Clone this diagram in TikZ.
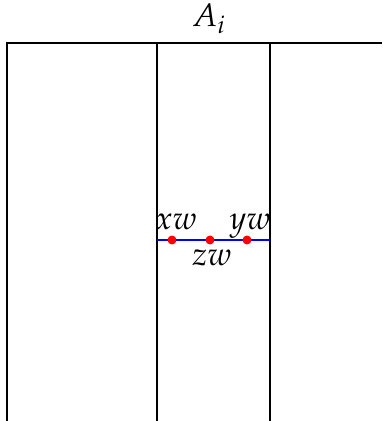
\documentclass[tikz,border=0pt]{standalone}
\usepackage{mathpazo}
\usetikzlibrary{positioning}
\tikzset{
  wall/.style={line width=0.8pt, black},
  seg/.style={line width=0.6pt, blue},
  pt/.style={circle, fill=red, inner sep=0pt, minimum size=3.6pt},
  lbl/.style={inner sep=1pt, font=\fontsize{13pt}{15pt}\selectfont}
}
\begin{document}
\begin{tikzpicture}[x=0.0141cm, y=-0.0141cm]
  \useasboundingbox (0,0) rectangle (382,421);

  % outer frame and strip
  \coordinate (bl) at (7,421);
  \coordinate (tl) at (7,43);
  \coordinate (tr) at (382,43);
  \coordinate (s1t) at (157,43);
  \coordinate (s1b) at (157,421);
  \coordinate (s2t) at (270,43);
  \coordinate (s2b) at (270,421);
  \draw[wall] (bl) -- (tl) -- (tr);
  \draw[wall] (s1t) -- (s1b);
  \draw[wall] (s2t) -- (s2b);

  \node[lbl, anchor=base] (title) at (209,27) {$A_i$};

  % segment with its points
  \coordinate (sl) at (157,240);
  \coordinate (sr) at (270,240);
  \draw[seg] (sl) -- (sr);
  \node[pt] (x) at (172,240) {};
  \node[pt] (z) at (210,240) {};
  \node[pt] (y) at (247,240) {};

  \node[lbl, above=2.4pt of x, anchor=base, xshift=1.6pt] (xlbl) {$xw$};
  \node[lbl, above=2.4pt of y, anchor=base, xshift=1.2pt] (ylbl) {$yw$};
  \node[lbl, below=0.6pt of z, xshift=0.8pt] (zlbl) {$zw$};
\end{tikzpicture}
\end{document}
